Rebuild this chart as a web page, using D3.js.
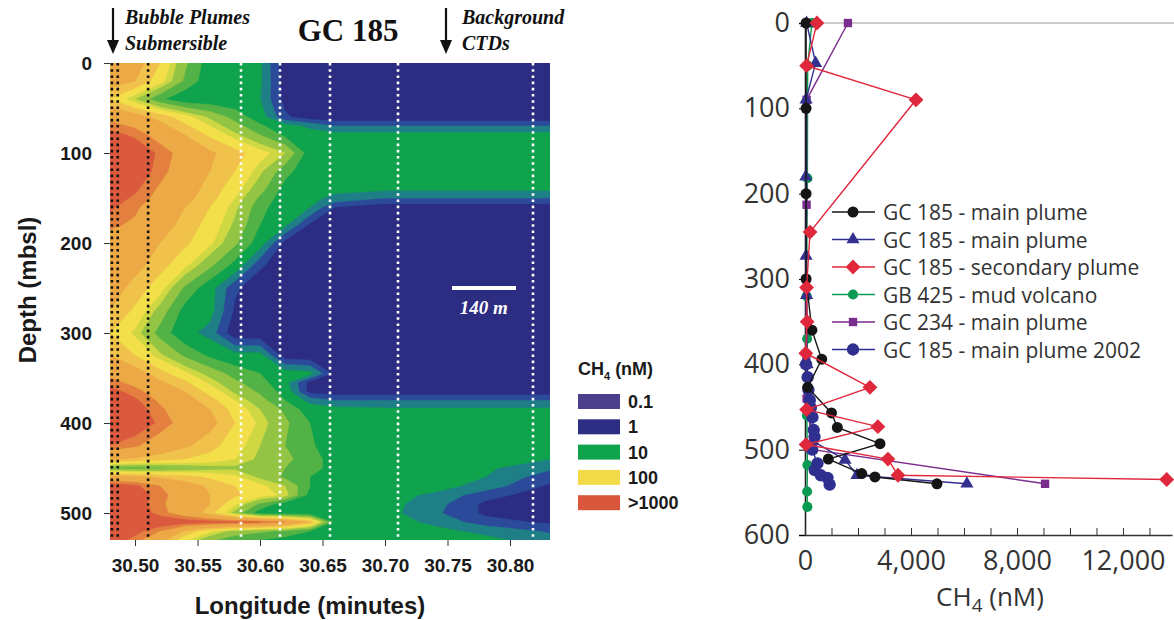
<!DOCTYPE html>
<html lang="en">
<head>
<meta charset="UTF-8">
<title>GC 185 methane</title>
<style>
  body { margin: 0; background: #fff; }
  svg { display: block; }
  .lbl { font-family: "Liberation Sans", Arial, sans-serif; font-weight: bold; fill: #1a1a1a; }
  .serif { font-family: "Liberation Serif", "Times New Roman", serif; font-weight: bold; fill: #111; }
  .rt { font-family: "Open Sans", sans-serif; fill: #333; }
</style>
</head>
<body>
<svg></svg>
<script src="https://cdn.jsdelivr.net/npm/d3@7"></script>
<script>
  // ---------- left panel: CH4 section, log10(nM) on a lon x depth grid ----------
  let lonNodes = [30.48, 30.50, 30.52, 30.54, 30.56, 30.58, 30.60, 30.62, 30.64, 30.66, 30.70, 30.74, 30.78, 30.832];
  let depthNodes = [0, 20, 40, 60, 70, 80, 100, 120, 140, 150, 160, 180, 200, 225, 250, 275, 300, 325,
    345, 355, 365, 375, 385, 400, 425, 440, 450, 460, 470, 480, 490, 500, 510, 520, 530];
  let ch4Log = [
    [2.7, 2.6, 2.2, 1.6, 1.15, 1.1, 1.05, 0.3, 0.3, 0.3, 0.3, 0.3, 0.3, 0.3],
    [2.6, 2.45, 2.05, 1.5, 1.12, 1.1, 1.05, 0.35, 0.3, 0.3, 0.3, 0.3, 0.3, 0.3],
    [2.2, 1.8, 1.35, 1.1, 1.1, 1.1, 1.0, 0.4, 0.3, 0.3, 0.3, 0.3, 0.3, 0.3],
    [2.8, 2.6, 2.35, 2.05, 1.75, 1.45, 1.15, 0.55, 0.35, 0.3, 0.3, 0.3, 0.3, 0.3],
    [3.0, 2.85, 2.55, 2.25, 1.95, 1.65, 1.35, 1.1, 0.95, 0.75, 0.75, 0.75, 0.75, 0.75],
    [3.2, 3.05, 2.75, 2.45, 2.15, 1.85, 1.55, 1.25, 1.1, 1.1, 1.1, 1.1, 1.1, 1.1],
    [3.4, 3.3, 3.05, 2.75, 2.5, 2.3, 2.05, 1.8, 1.15, 1.1, 1.1, 1.1, 1.1, 1.1],
    [3.45, 3.3, 3.0, 2.7, 2.45, 2.2, 1.85, 1.4, 1.1, 1.1, 1.1, 1.1, 1.1, 1.1],
    [3.35, 3.15, 2.85, 2.6, 2.35, 2.05, 1.65, 1.2, 1.1, 1.05, 1.05, 1.05, 1.05, 1.05],
    [3.25, 3.05, 2.8, 2.55, 2.3, 1.95, 1.5, 1.15, 1.05, 0.95, 0.75, 0.75, 0.75, 0.75],
    [3.15, 2.95, 2.7, 2.45, 2.2, 1.85, 1.4, 1.1, 1.0, 0.5, 0.35, 0.35, 0.35, 0.35],
    [2.95, 2.85, 2.6, 2.35, 2.1, 1.75, 1.3, 1.05, 0.45, 0.3, 0.3, 0.3, 0.3, 0.3],
    [2.75, 2.65, 2.45, 2.25, 2.0, 1.6, 1.15, 0.4, 0.3, 0.3, 0.3, 0.3, 0.3, 0.3],
    [2.7, 2.55, 2.3, 2.0, 1.6, 1.2, 0.55, 0.3, 0.3, 0.3, 0.3, 0.3, 0.3, 0.3],
    [2.6, 2.35, 2.05, 1.5, 1.12, 0.55, 0.3, 0.3, 0.3, 0.3, 0.3, 0.3, 0.3, 0.3],
    [2.45, 2.15, 1.7, 1.2, 1.1, 0.45, 0.3, 0.3, 0.3, 0.3, 0.3, 0.3, 0.3, 0.3],
    [2.2, 1.9, 1.45, 1.1, 0.9, 0.3, 0.3, 0.3, 0.3, 0.3, 0.3, 0.3, 0.3, 0.3],
    [2.45, 2.2, 1.85, 1.5, 1.25, 1.1, 1.1, 0.35, 0.3, 0.3, 0.3, 0.3, 0.3, 0.3],
    [2.8, 2.6, 2.3, 2.0, 1.7, 1.45, 1.3, 1.15, 1.1, 0.4, 0.3, 0.3, 0.3, 0.3],
    [3.0, 2.8, 2.5, 2.25, 1.9, 1.6, 1.4, 1.1, 0.4, 0.3, 0.3, 0.3, 0.3, 0.3],
    [3.2, 3.0, 2.7, 2.45, 2.1, 1.75, 1.5, 1.2, 0.4, 0.35, 0.35, 0.35, 0.35, 0.35],
    [3.3, 3.15, 2.85, 2.6, 2.3, 1.95, 1.65, 1.3, 0.9, 0.75, 0.75, 0.75, 0.75, 0.75],
    [3.4, 3.25, 2.95, 2.7, 2.45, 2.1, 1.8, 1.5, 1.15, 1.1, 1.05, 1.05, 1.05, 1.05],
    [3.45, 3.3, 3.05, 2.75, 2.55, 2.2, 1.9, 1.6, 1.3, 1.1, 1.1, 1.1, 1.1, 1.1],
    [3.1, 2.95, 2.7, 2.5, 2.3, 2.05, 1.8, 1.55, 1.35, 1.1, 1.1, 1.1, 1.1, 1.1],
    [2.5, 2.4, 2.3, 2.2, 2.1, 1.95, 1.75, 1.6, 1.45, 1.15, 1.1, 1.1, 1.1, 1.0],
    [1.5, 1.45, 1.5, 1.6, 1.7, 1.75, 1.65, 1.55, 1.45, 1.15, 1.1, 1.1, 1.05, 0.8],
    [2.6, 2.55, 2.4, 2.3, 2.15, 2.0, 1.75, 1.5, 1.3, 1.1, 1.1, 1.1, 1.0, 0.6],
    [3.3, 3.15, 2.9, 2.6, 2.4, 2.2, 2.0, 1.8, 1.3, 1.1, 1.1, 1.1, 0.9, 0.45],
    [3.4, 3.25, 3.0, 2.7, 2.45, 2.25, 2.05, 1.9, 1.2, 1.1, 1.1, 0.95, 0.6, 0.35],
    [3.4, 3.25, 2.95, 2.7, 2.45, 2.0, 1.5, 1.15, 1.1, 1.1, 1.1, 0.85, 0.45, 0.3],
    [3.4, 3.3, 3.0, 2.7, 2.3, 1.7, 1.15, 1.1, 1.1, 1.1, 1.1, 0.8, 0.45, 0.35],
    [3.5, 3.45, 3.3, 3.25, 3.2, 3.15, 3.1, 2.9, 2.4, 1.2, 1.1, 0.95, 0.6, 0.45],
    [3.4, 3.2, 2.9, 2.4, 2.0, 1.7, 1.6, 1.5, 1.3, 1.15, 1.1, 1.05, 0.95, 0.7],
    [3.3, 3.0, 2.6, 2.0, 1.6, 1.4, 1.3, 1.2, 1.1, 1.1, 1.1, 1.1, 1.05, 0.9]
  ];
  let bandThresholds = [0.5, 0.75, 1.0, 1.3, 1.55, 1.8, 1.95, 2.2, 2.45, 2.9, 3.1];
  let bandColors = ['#2c2c82', '#2b4b9a', '#1f7f86', '#0ea34c', '#52b246', '#93c443', '#cfd843',
    '#f3df4a', '#f0c24c', '#eca946', '#e3803f', '#db5a3d'];
  let plumeStations = [30.4815, 30.4862, 30.5105];
  let ctdStations = [30.5848, 30.616, 30.656, 30.7104, 30.8184];
  let depthTicks = [0, 100, 200, 300, 400, 500];
  let lonTicks = [30.50, 30.55, 30.60, 30.65, 30.70, 30.75, 30.80];
  let legendLabels = ['0.1', '1', '10', '100', '>1000'];
  let legendColors = ['#4b3f8c', '#2d2d84', '#0ea34c', '#f2da48', '#d9563d'];

  // ---------- right panel: CH4 profiles ----------
  let profileNames = ['GC 185 - main plume', 'GC 185 - main plume', 'GC 185 - secondary plume',
    'GB 425 - mud volcano', 'GC 234 - main plume', 'GC 185 - main plume 2002'];
  let blackDepth = [0, 100, 200, 300, 360, 394, 427, 457, 474, 493, 511, 528, 532, 540];
  let blackVal = [40, 40, 40, 40, 260, 630, 100, 1000, 1220, 2830, 880, 2140, 2640, 4980];
  let triDepth = [0, 47, 90, 180, 273, 319, 400, 450, 490, 512, 530, 540];
  let triVal = [60, 400, 40, 30, 40, 60, 80, 150, 300, 1510, 1960, 6110];
  let redDepth = [0, 50, 90, 245, 310, 350, 387, 427, 453, 473, 494, 511, 530, 535];
  let redVal = [450, 60, 4190, 190, 60, 80, 30, 2450, 60, 2750, 40, 3130, 3510, 13650];
  let greenDepth = [0, 50, 182, 320, 370, 460, 518, 549, 567];
  let greenVal = [260, 100, 90, 60, 80, 70, 90, 80, 90];
  let purpleDepth = [0, 90, 213, 300, 390, 440, 500, 540];
  let purpleVal = [1620, 60, 60, 40, 50, 60, 300, 9060];
  let navyDepth = [400, 415, 430, 442, 451, 462, 477, 485, 500, 516, 524, 530, 533, 541];
  let navyVal = [40, 100, 130, 180, 220, 280, 330, 360, 270, 470, 370, 600, 850, 930];
  let profileDepthTicks = [0, 100, 200, 300, 400, 500, 600];
  let ch4Ticks = d3.range(0, 13001, 1000);

  const W = 1174, H = 620;
  const svg = d3.select('svg').attr('width', W).attr('height', H);

  // ===== left panel =====
  const x = d3.scaleLinear().domain([30.48, 30.832]).range([110, 550]);
  const y = d3.scaleLinear().domain([0, 530]).range([63, 540]);

  svg.append('clipPath').attr('id', 'clipL')
    .append('rect').attr('x', 110).attr('y', 63).attr('width', 440).attr('height', 477);

  const gMap = svg.append('g').attr('clip-path', 'url(#clipL)');
  gMap.append('rect').attr('x', 110).attr('y', 63).attr('width', 440).attr('height', 477)
    .attr('fill', bandColors[0]);

  const nx = lonNodes.length, ny = depthNodes.length;
  const ix = d3.scaleLinear().domain(d3.range(nx)).range(lonNodes.map(v => x(v))).clamp(true);
  const iy = d3.scaleLinear().domain(d3.range(ny)).range(depthNodes.map(v => y(v))).clamp(true);
  const proj = d3.geoTransform({
    point(px, py) { this.stream.point(ix(px - 0.5), iy(py - 0.5)); }
  });
  const contourPath = d3.geoPath(proj);
  const contours = d3.contours().size([nx, ny]).thresholds(bandThresholds)(ch4Log.flat());

  gMap.selectAll('path.band')
    .data(contours)
    .join('path')
    .attr('class', 'band')
    .attr('d', contourPath)
    .attr('fill', (d, i) => bandColors[i + 1])
    .attr('stroke', (d, i) => bandColors[i + 1])
    .attr('stroke-width', 0.5);

  gMap.selectAll('line.ctd')
    .data(ctdStations)
    .join('line')
    .attr('x1', d => x(d)).attr('x2', d => x(d))
    .attr('y1', y(0)).attr('y2', y(530))
    .attr('stroke', '#fff').attr('stroke-width', 2.6).attr('stroke-dasharray', '2.6,3.6');

  gMap.selectAll('line.plume')
    .data(plumeStations)
    .join('line')
    .attr('x1', d => x(d)).attr('x2', d => x(d))
    .attr('y1', y(0)).attr('y2', y(530))
    .attr('stroke', '#111').attr('stroke-width', 2.6).attr('stroke-dasharray', '2.6,3.6');

  // scale bar
  svg.append('line')
    .attr('x1', x(30.7536)).attr('x2', x(30.8048)).attr('y1', y(250)).attr('y2', y(250))
    .attr('stroke', '#fff').attr('stroke-width', 4);
  svg.append('text').attr('class', 'serif')
    .attr('x', x(30.779)).attr('y', y(279)).attr('text-anchor', 'middle')
    .style('font-style', 'italic').style('font-size', '19px').style('fill', '#fff')
    .text('140 m');

  // axes
  const axL = svg.append('g').attr('transform', 'translate(110,0)')
    .call(d3.axisLeft(y).tickValues(depthTicks).tickSize(6).tickPadding(12));
  axL.select('.domain').remove();
  axL.selectAll('line').attr('stroke', '#333');
  axL.selectAll('text').attr('class', 'lbl').style('font-size', '19px');

  const axB = svg.append('g').attr('transform', 'translate(0,540)')
    .call(d3.axisBottom(x).tickValues(lonTicks).tickSize(6).tickPadding(13).tickFormat(d3.format('.2f')));
  axB.select('.domain').remove();
  axB.selectAll('line').attr('stroke', '#333');
  axB.selectAll('text').attr('class', 'lbl').style('font-size', '19px');

  svg.append('text').attr('class', 'lbl')
    .attr('transform', 'translate(36,290) rotate(-90)')
    .attr('text-anchor', 'middle').style('font-size', '24px')
    .text('Depth (mbsl)');
  svg.append('text').attr('class', 'lbl')
    .attr('x', 310).attr('y', 614).attr('text-anchor', 'middle').style('font-size', '24px')
    .text('Longitude (minutes)');

  // header
  svg.append('text').attr('class', 'serif').attr('x', 348).attr('y', 41)
    .attr('text-anchor', 'middle').style('font-size', '31px').text('GC 185');
  [['Bubble Plumes', 'Submersible', 125, 113], ['Background', 'CTDs', 462, 446]].forEach(h => {
    svg.append('text').attr('class', 'serif').attr('x', h[2]).attr('y', 24)
      .style('font-style', 'italic').style('font-size', '20px').text(h[0]);
    svg.append('text').attr('class', 'serif').attr('x', h[2]).attr('y', 50)
      .style('font-style', 'italic').style('font-size', '20px').text(h[1]);
    svg.append('line').attr('x1', h[3]).attr('x2', h[3]).attr('y1', 8).attr('y2', 44)
      .attr('stroke', '#111').attr('stroke-width', 2.2);
    svg.append('path')
      .attr('d', `M${h[3] - 6},40 L${h[3] + 6},40 L${h[3]},54 Z`)
      .attr('fill', '#111');
  });

  // colour legend
  const lg = svg.append('g').attr('transform', 'translate(578,0)');
  const lt = lg.append('text').attr('class', 'lbl').attr('y', 375).style('font-size', '18px');
  lt.append('tspan').text('CH');
  lt.append('tspan').attr('dy', 5).style('font-size', '11px').text('4');
  lt.append('tspan').attr('dy', -5).text(' (nM)');
  lg.selectAll('rect.sw')
    .data(legendColors)
    .join('rect')
    .attr('x', 0).attr('y', (d, i) => 394 + i * 25.3)
    .attr('width', 42).attr('height', 15)
    .attr('fill', d => d);
  lg.selectAll('text.lv')
    .data(legendLabels)
    .join('text')
    .attr('class', 'lbl')
    .attr('x', 50).attr('y', (d, i) => 408 + i * 25.3)
    .style('font-size', '18px')
    .text(d => d);

  // ===== right panel =====
  const xR = d3.scaleLinear().domain([0, 13850]).range([805, 1172]);
  const yR = d3.scaleLinear().domain([0, 600]).range([23, 535]);

  svg.append('line').attr('x1', xR(0)).attr('x2', W).attr('y1', yR(0)).attr('y2', yR(0))
    .attr('stroke', '#999').attr('stroke-width', 1.2);

  const axR = svg.append('g').attr('transform', 'translate(805,0)')
    .call(d3.axisLeft(yR).tickValues(profileDepthTicks).tickSize(6).tickPadding(9));
  axR.select('.domain').attr('stroke', '#222').attr('stroke-width', 1.6);
  axR.selectAll('text').attr('class', 'rt').style('font-size', '27px');

  const axRB = svg.append('g').attr('transform', 'translate(0,535)')
    .call(d3.axisBottom(xR).tickValues(ch4Ticks).tickSizeInner(-7).tickSizeOuter(0).tickPadding(16)
      .tickFormat(v => v % 4000 === 0 ? d3.format(',')(v) : ''));
  axRB.select('.domain').attr('stroke', '#333').attr('stroke-width', 1.3);
  axRB.selectAll('line').attr('stroke', '#333');
  axRB.selectAll('text').attr('class', 'rt').style('font-size', '27px');

  const xt = svg.append('text').attr('class', 'rt').attr('x', 990).attr('y', 606)
    .attr('text-anchor', 'middle').style('font-size', '26px');
  xt.append('tspan').text('CH');
  xt.append('tspan').attr('dy', 6).style('font-size', '19px').text('4');
  xt.append('tspan').attr('dy', -6).text(' (nM)');

  const diamond = { draw(ctx, size) { const r = Math.sqrt(size / 2); ctx.moveTo(0, -r); ctx.lineTo(r, 0); ctx.lineTo(0, r); ctx.lineTo(-r, 0); ctx.closePath(); } };

  const profiles = [
    { name: profileNames[3], d: greenDepth, v: greenVal, color: '#0b9a52', sym: d3.symbolCircle, size: 80 },
    { name: profileNames[4], d: purpleDepth, v: purpleVal, color: '#7b2d8e', sym: d3.symbolSquare, size: 70 },
    { name: profileNames[5], d: navyDepth, v: navyVal, color: '#2f2f8f', sym: d3.symbolCircle, size: 120 },
    { name: profileNames[1], d: triDepth, v: triVal, color: '#33308f', sym: d3.symbolTriangle, size: 75 },
    { name: profileNames[0], d: blackDepth, v: blackVal, color: '#151515', sym: d3.symbolCircle, size: 95 },
    { name: profileNames[2], d: redDepth, v: redVal, color: '#e0283c', sym: diamond, size: 110 }
  ];
  const legendOrder = [4, 3, 5, 0, 1, 2];

  const line = d3.line().x(p => xR(p[0])).y(p => yR(p[1]));

  profiles.forEach(s => {
    const pts = s.v.map((v, i) => [v, s.d[i]]);
    const g = svg.append('g');
    g.append('path').attr('d', line(pts)).attr('fill', 'none')
      .attr('stroke', s.color).attr('stroke-width', 1.4);
    g.selectAll('path.m')
      .data(pts)
      .join('path')
      .attr('class', 'm')
      .attr('transform', p => `translate(${xR(p[0])},${yR(p[1])})`)
      .attr('d', d3.symbol(s.sym, s.size))
      .attr('fill', s.color);
  });

  const lgR = svg.append('g');
  legendOrder.forEach((k, i) => {
    const s = profiles[k];
    const ly = 212 + i * 27.5;
    lgR.append('line').attr('x1', 832).attr('x2', 875).attr('y1', ly).attr('y2', ly)
      .attr('stroke', s.color).attr('stroke-width', 1.6);
    lgR.append('path').attr('transform', `translate(853,${ly})`)
      .attr('d', d3.symbol(s.sym, s.size)).attr('fill', s.color);
    lgR.append('text').attr('class', 'rt').attr('x', 883).attr('y', ly + 8)
      .style('font-size', '21px').text(s.name);
  });
</script>
</body>
</html>
